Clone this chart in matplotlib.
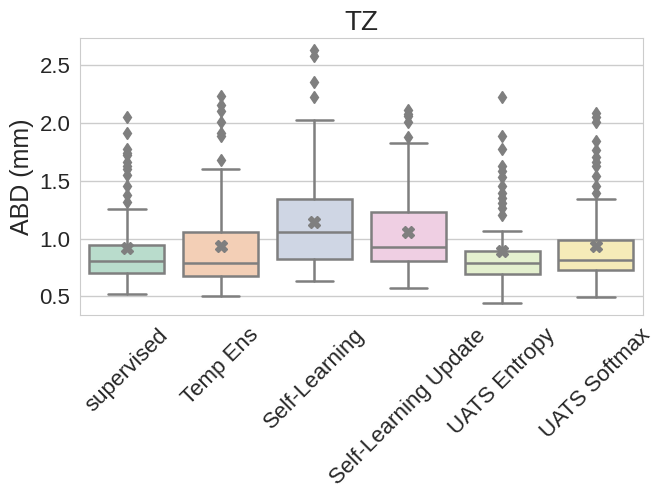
import matplotlib
matplotlib.use("Agg")
import matplotlib.pyplot as plt
import seaborn as sns
import numpy as np

categories = ["supervised", "Temp Ens", "Self-Learning", "Self-Learning Update", "UATS Entropy", "UATS Softmax"]
q1 = [0.707, 0.675, 0.822, 0.804, 0.690, 0.727]
median = [0.804, 0.787, 1.055, 0.931, 0.793, 0.813]
q3 = [0.945, 1.055, 1.345, 1.233, 0.891, 0.991]
whisker_low = [0.522, 0.505, 0.630, 0.576, 0.447, 0.496]
whisker_high = [1.259, 1.598, 2.026, 1.822, 1.069, 1.345]
means = [0.915, 0.934, 1.140, 1.055, 0.893, 0.940]
fliers = [
    [2.049, 1.908, 1.776, 1.740, 1.718, 1.660, 1.623, 1.601, 1.546, 1.457, 1.373, 1.317],
    [2.233, 2.155, 2.098, 2.011, 1.911, 1.888, 1.681],
    [2.629, 2.580, 2.351, 2.222],
    [2.112, 2.080, 2.060, 2.011, 1.877],
    [2.222, 1.882, 1.770, 1.623, 1.580, 1.529, 1.451, 1.394, 1.350, 1.308, 1.264, 1.207],
    [2.084, 2.050, 2.011, 1.839, 1.767, 1.709, 1.666, 1.623, 1.537, 1.451, 1.394],
]
title = "TZ"
ylabel = "ABD (mm)"

sns.set_style("whitegrid")
plt.rcParams["font.family"] = ["Liberation Sans", "DejaVu Sans"]

fig = plt.figure(figsize=(6.64, 4.98), dpi=100)
ax = fig.add_axes([0.1205, 0.3675, 0.8475, 0.5562])

pal = sns.color_palette("Pastel2", len(categories), desat=0.75)
gray = "#7f7f7f"

stats = []
for i in range(len(categories)):
    stats.append(dict(med=median[i], q1=q1[i], q3=q3[i], whislo=whisker_low[i],
                      whishi=whisker_high[i], mean=means[i], fliers=fliers[i]))

lw = 1.8
bp = ax.bxp(stats, positions=range(len(categories)), widths=0.8, patch_artist=True,
            showmeans=True, showfliers=True, capwidths=0.4,
            boxprops=dict(edgecolor=gray, linewidth=lw),
            medianprops=dict(color=gray, linewidth=lw),
            whiskerprops=dict(color=gray, linewidth=lw),
            capprops=dict(color=gray, linewidth=lw),
            flierprops=dict(marker="d", markerfacecolor=gray, markeredgecolor=gray, markersize=6.5),
            meanprops=dict(marker="X", markerfacecolor=gray, markeredgecolor=gray, markersize=9))
for patch, c in zip(bp["boxes"], pal):
    patch.set_facecolor(c)

ax.set_xlim(-0.5, len(categories) - 0.5)
ax.set_ylim(0.34, 2.733)
ax.set_xticks(range(len(categories)))
ax.set_xticklabels(categories, rotation=45, fontsize=16)
ax.set_yticks([0.5, 1.0, 1.5, 2.0, 2.5])
ax.tick_params(axis="y", labelsize=16)
ax.xaxis.grid(False)
ax.yaxis.grid(True, color="#cccccc", linewidth=1)
for s in ax.spines.values():
    s.set_color("#cccccc")
ax.set_ylabel(ylabel, fontsize=18)
ax.set_title(title, fontsize=20)

fig.savefig("out.png", dpi=100)
